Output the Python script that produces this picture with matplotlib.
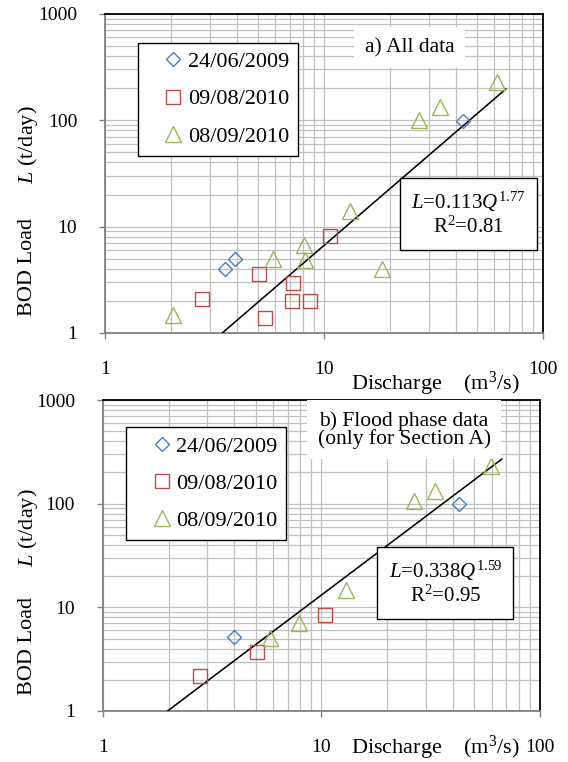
import numpy as np
import matplotlib.pyplot as plt
from matplotlib.ticker import LogLocator, FixedLocator, NullFormatter

plt.rcParams['font.family'] = ['Liberation Serif', 'DejaVu Serif']
plt.rcParams['mathtext.fontset'] = 'custom'
plt.rcParams['mathtext.rm'] = 'Liberation Serif'
plt.rcParams['mathtext.it'] = 'Liberation Serif:italic'

# panel a) all data
qa_2009 = [3.53, 3.92, 43.0]
la_2009 = [4.0, 5.0, 98.5]
qa_0908 = [2.78, 5.07, 5.39, 7.24, 7.12, 8.63, 10.6]
la_0908 = [2.07, 3.58, 1.37, 2.93, 2.0, 2.0, 8.14]
qa_0809 = [2.04, 5.87, 8.11, 8.19, 13.1, 18.3, 27.2, 33.9, 61.5]
la_0809 = [1.48, 4.92, 6.70, 4.85, 14.1, 3.96, 101, 132, 229]

# panel b) flood phase (section A)
qb_2009 = [3.96, 42.7]
lb_2009 = [5.18, 99]
qb_0908 = [2.77, 5.07, 10.4]
lb_0908 = [2.17, 3.72, 8.4]
qb_0809 = [5.79, 7.93, 12.9, 26.6, 33.2, 59.6]
lb_0809 = [5.11, 7.07, 14.6, 105, 133, 232]

# power law fits L = a*Q^b
fit_a = (0.113, 1.77, [2.0, 67.6])
fit_b = (0.338, 1.59, [1.9, 66.8])

series_names = ['24/06/2009', '09/08/2010', '08/09/2010']
colors = ['#4a7ebb', '#be4b48', '#98b954']
markers = ['D', 's', '^']
msizes = [7, 10.5, 11]

fig = plt.figure(figsize=(5.68, 7.62), dpi=100)
ax1 = fig.add_axes([0.185, 0.563, 0.771, 0.419])
ax2 = fig.add_axes([0.181, 0.067, 0.770, 0.408])

def draw_panel(ax, data, fit, title, eq, leg_xy, title_xy, eq_xy):
    for (q, l), c, m, ms, name in zip(data, colors, markers, msizes, series_names):
        ax.plot(q, l, linestyle='none', marker=m, ms=ms, mfc='none', mec=c, mew=1.0,
                label=name, zorder=4)
    a, b, qr = fit
    qf = np.array(qr)
    ax.plot(qf, a * qf ** b, color='black', lw=1.15, zorder=3)

    ax.set_xscale('log')
    ax.set_yscale('log')
    ax.set_xlim(1, 100)
    ax.set_ylim(1, 1000)
    ax.xaxis.set_major_locator(FixedLocator([1, 10, 100]))
    ax.yaxis.set_major_locator(FixedLocator([1, 10, 100, 1000]))
    ax.xaxis.set_minor_locator(LogLocator(base=10, subs=np.arange(2, 10)))
    ax.yaxis.set_minor_locator(LogLocator(base=10, subs=np.arange(2, 10)))
    ax.xaxis.set_minor_formatter(NullFormatter())
    ax.yaxis.set_minor_formatter(NullFormatter())
    ax.set_xticklabels(['1', '10', '100'])
    ax.set_yticklabels(['1', '10', '100', '1000'])
    ax.grid(True, which='both', color='#c0c0c0', lw=0.9)
    ax.set_axisbelow(True)
    ax.tick_params(which='major', direction='out', length=4, width=1.0, color='#808080',
                   labelsize=14)
    ax.tick_params(axis='x', which='major', pad=16)
    ax.tick_params(axis='y', which='major', pad=16)
    ax.tick_params(which='minor', length=0)
    for s in ['left', 'bottom']:
        ax.spines[s].set_color('#808080')
        ax.spines[s].set_linewidth(1.3)
    for s in ['top', 'right']:
        ax.spines[s].set_color('black')
        ax.spines[s].set_linewidth(1.3)

    leg = ax.legend(loc='upper left', bbox_to_anchor=leg_xy, borderaxespad=0,
                    fontsize=16, numpoints=1, handlelength=2.4, handletextpad=-0.55,
                    borderpad=0.4, labelspacing=0.75, fancybox=False, framealpha=1,
                    edgecolor='black')
    leg.get_frame().set_linewidth(1.0)
    leg.set_zorder(6)

    ax.text(title_xy[0], title_xy[1], title, transform=ax.transAxes, ha='center',
            va='center', fontsize=15.5, linespacing=0.85, zorder=6,
            bbox=dict(boxstyle='square,pad=0.5', facecolor='white', edgecolor='none'))
    ax.text(eq_xy[0], eq_xy[1], eq, transform=ax.transAxes, ha='center', va='center',
            fontsize=15, linespacing=1.2, zorder=6,
            bbox=dict(boxstyle='square,pad=0.55', facecolor='white', edgecolor='black',
                      lw=1.0))

draw_panel(ax1, [(qa_2009, la_2009), (qa_0908, la_0908), (qa_0809, la_0809)], fit_a,
           'a) All data', '$L$=0.113$Q^{1.77}$\nR$^2$=0.81',
           (0.075, 0.909), (0.696, 0.893), (0.829, 0.373))
draw_panel(ax2, [(qb_2009, lb_2009), (qb_0908, lb_0908), (qb_0809, lb_0809)], fit_b,
           'b) Flood phase data\n(only for Section A)', '$L$=0.338$Q^{1.59}$\nR$^2$=0.95',
           (0.053, 0.913), (0.689, 0.904), (0.783, 0.412))

# axis titles placed like the original
for yb, yl, yx in [(267, 145, 384), (646, 528, 748)]:
    fig.text(28 / 568, 1 - yb / 762, 'BOD Load', rotation=90, ha='center', va='center',
             fontsize=16)
    fig.text(28 / 568, 1 - yl / 762, '$L$ (t/day)', rotation=90, ha='center', va='center',
             fontsize=16)
    fig.text(435 / 568, 1 - yx / 762, 'Discharge    (m$^3$/s)', ha='center', va='center',
             fontsize=16)

fig.savefig('out.png', dpi=100)
